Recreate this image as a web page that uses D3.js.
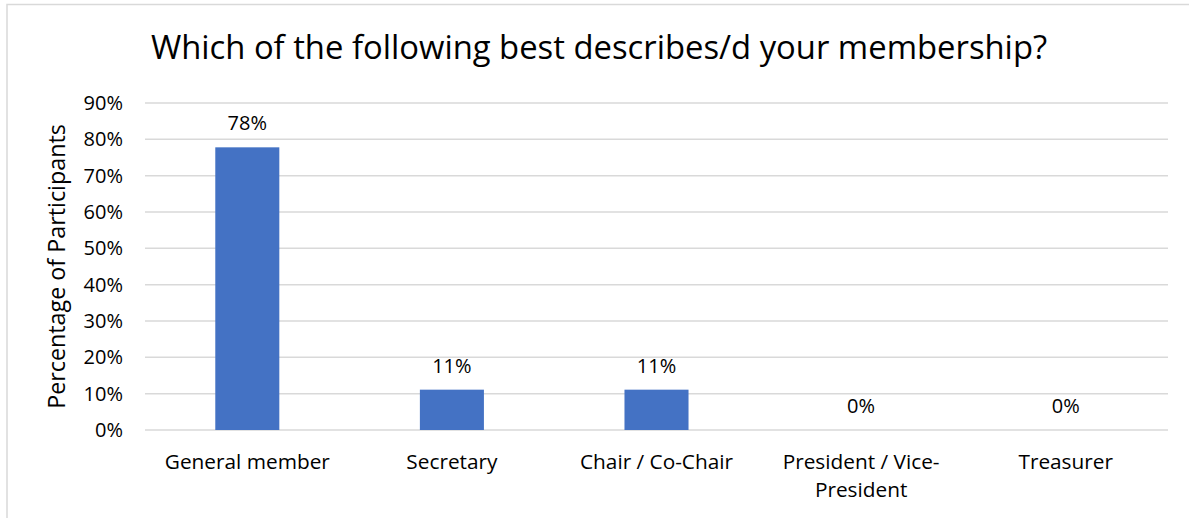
<!DOCTYPE html>
<html>
<head>
<meta charset="utf-8">
<script src="https://cdn.jsdelivr.net/npm/d3@7"></script>
<style>
  html, body { margin: 0; padding: 0; background: #fff; }
  svg { display: block; }
  text { font-family: "Open Sans", "Liberation Sans", sans-serif; fill: #000; }
</style>
</head>
<body>
<svg id="chart" width="1189" height="518"></svg>
<script>
const categories = ["General member", "Secretary", "Chair / Co-Chair", "President / Vice-President", "Treasurer"];
const categoryLines = [["General member"], ["Secretary"], ["Chair / Co-Chair"], ["President / Vice-", "President"], ["Treasurer"]];
const values = [77.8, 11.1, 11.1, 0, 0];
const valueLabels = ["78%", "11%", "11%", "0%", "0%"];
const yTicks = [0, 10, 20, 30, 40, 50, 60, 70, 80, 90];
const titleText = "Which of the following best describes/d your membership?";
const yTitle = "Percentage of Participants";

const svg = d3.select("#chart");
const W = 1189, H = 518;
const m = { left: 145, right: 21, top: 103, bottom: 88 };

// outer border (only top and left visible, chart is cropped)
svg.append("rect").attr("x", 7).attr("y", 4.5).attr("width", W + 20).attr("height", H + 20)
  .attr("fill", "none").attr("stroke", "#d9d9d9").attr("stroke-width", 1.5);

const x = d3.scaleBand().domain(categories).range([m.left, W - m.right]).paddingInner(0.687).paddingOuter(0.3435);
const y = d3.scaleLinear().domain([0, 90]).range([H - m.bottom, m.top]);

// gridlines
svg.append("g").selectAll("line").data(yTicks).join("line")
  .attr("x1", m.left).attr("x2", W - m.right)
  .attr("y1", d => y(d)).attr("y2", d => y(d))
  .attr("stroke", "#d9d9d9").attr("stroke-width", 1.5);

// y axis labels
const yAxis = d3.axisLeft(y).tickValues(yTicks).tickFormat(d => d + "%").tickSize(0).tickPadding(22);
const gy = svg.append("g").attr("transform", `translate(${m.left},0)`).call(yAxis);
gy.select(".domain").remove();
gy.selectAll("text").attr("font-size", 20).attr("font-family", "Open Sans").attr("fill", "#000");

// bars
svg.append("g").selectAll("rect").data(categories).join("rect")
  .attr("x", d => x(d)).attr("width", x.bandwidth())
  .attr("y", (d, i) => y(values[i])).attr("height", (d, i) => y(0) - y(values[i]))
  .attr("fill", "#4472C4");

// value labels
svg.append("g").selectAll("text").data(categories).join("text")
  .attr("x", d => x(d) + x.bandwidth() / 2)
  .attr("y", (d, i) => y(values[i]) - 17)
  .attr("text-anchor", "middle").attr("font-size", 20)
  .text((d, i) => valueLabels[i]);

// category labels
const gx = svg.append("g");
categories.forEach((c, i) => {
  const t = gx.append("text").attr("x", x(c) + x.bandwidth() / 2).attr("y", y(0) + 39)
    .attr("text-anchor", "middle").attr("font-size", 20.8);
  categoryLines[i].forEach((line, j) => {
    t.append("tspan").attr("x", x(c) + x.bandwidth() / 2).attr("dy", j === 0 ? 0 : 28).text(line);
  });
});

// title
svg.append("text").attr("x", 599).attr("y", 59).attr("text-anchor", "middle")
  .attr("font-size", 32.8).text(titleText);

// y title
svg.append("text").attr("transform", `translate(65, ${(y(0) + y(90)) / 2}) rotate(-90)`)
  .attr("text-anchor", "middle").attr("font-size", 23.3).text(yTitle);
</script>
</body>
</html>
